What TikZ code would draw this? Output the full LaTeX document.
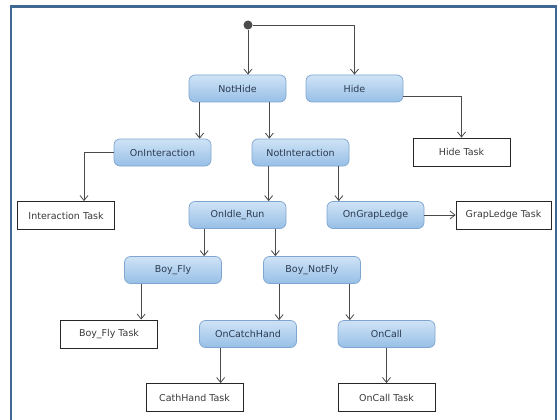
\documentclass[tikz,border=0pt]{standalone}
\usepackage{fontspec}
\setmainfont{DejaVu Sans}
\usetikzlibrary{arrows.meta}

\definecolor{frameblue}{HTML}{3F6894}
\definecolor{stateTop}{HTML}{CFE3F6}
\definecolor{stateBot}{HTML}{97BFE6}
\definecolor{stateLine}{HTML}{7FA6D0}
\definecolor{stateText}{HTML}{2C3B50}
\definecolor{taskText}{HTML}{3A3A3A}
\definecolor{flowLine}{HTML}{4A4A4A}

\tikzset{
  state/.style={rectangle, rounded corners=6pt, draw=stateLine, line width=0.7pt,
    top color=stateTop, bottom color=stateBot, text=stateText,
    minimum width=97pt, minimum height=27pt, inner sep=0pt,
    font=\fontsize{9.5}{11}\selectfont},
  task/.style={rectangle, draw=black!85, line width=0.8pt, fill=white, text=taskText,
    minimum width=97pt, minimum height=28pt, inner sep=0pt,
    font=\fontsize{9.5}{11}\selectfont},
  flow/.style={draw=flowLine, line width=0.9pt,
    -{Straight Barb[length=5pt,width=8pt,line width=0.8pt]}},
  startdot/.style={circle, fill=black!70, minimum size=9pt, inner sep=0pt}
}

\begin{document}
\begin{tikzpicture}[x=1pt, y=-1pt]
  \useasboundingbox (0,0) rectangle (560,420);
  \fill[white] (0,0) rectangle (560,420);
  % outer frame
  \draw[frameblue, line width=2.5pt] (11,6.5) rectangle (556,430);

  % start point
  \node[startdot] (start) at (248,25) {};

  % states
  \node[state] (nothide)  at (237.5,88.5) {NotHide};
  \node[state] (hide)     at (354.5,88.5) {Hide};
  \node[state] (onint)    at (162.5,152.5) {OnInteraction};
  \node[state] (notint)   at (300.5,152.5) {NotInteraction};
  \node[state] (idle)     at (237.5,215) {OnIdle\_Run};
  \node[state] (grap)     at (375.5,215) {OnGrapLedge};
  \node[state] (boyfly)   at (173,270) {Boy\_Fly};
  \node[state] (boynot)   at (312,270) {Boy\_NotFly};
  \node[state] (catch)    at (248,334) {OnCatchHand};
  \node[state] (oncall)   at (386.5,334) {OnCall};

  % tasks
  \node[task] (hidetask)  at (461.5,152) {Hide Task};
  \node[task] (inttask)   at (66,215.5) {Interaction Task};
  \node[task, minimum width=95pt] (graptask) at (503.5,215) {GrapLedge Task};
  \node[task] (flytask)   at (109,334) {Boy\_Fly Task};
  \node[task] (catchtask) at (194.5,397.5) {CathHand Task};
  \node[task] (calltask)  at (386.5,397.5) {OnCall Task};

  % transitions
  \draw[flow] (start) -- (start |- nothide.north);
  \draw[flow] (start) -| (hide.north);
  \draw[flow] ([xshift=11pt]nothide.south west) -- ([xshift=11pt]nothide.south west |- onint.north);
  \draw[flow] ([xshift=-17pt]nothide.south east) -- ([xshift=-17pt]nothide.south east |- notint.north);
  \draw[flow] ([yshift=6pt]hide.south east) -| (hidetask.north);
  \draw[flow] (onint.west) -| ([xshift=18pt]inttask.north);
  \draw[flow] ([xshift=17pt]notint.south west) -- ([xshift=17pt]notint.south west |- idle.north);
  \draw[flow] ([xshift=-10.5pt]notint.south east) -- ([xshift=-10.5pt]notint.south east |- grap.north);
  \draw[flow] (grap.east) -- (graptask.west);
  \draw[flow] ([xshift=15.5pt]idle.south west) -- ([xshift=15.5pt]idle.south west |- boyfly.north);
  \draw[flow] ([xshift=-11pt]idle.south east) -- ([xshift=-11pt]idle.south east |- boynot.north);
  \draw[flow] ([xshift=17pt]boyfly.south west) -- ([xshift=17pt]boyfly.south west |- flytask.north);
  \draw[flow] ([xshift=16pt]boynot.south west) -- ([xshift=16pt]boynot.south west |- catch.north);
  \draw[flow] ([xshift=-11pt]boynot.south east) -- ([xshift=-11pt]boynot.south east |- oncall.north);
  \draw[flow] ([xshift=21.5pt]catch.south west) -- ([xshift=21.5pt]catch.south west |- catchtask.north);
  \draw[flow] (oncall.south) -- (calltask.north);
\end{tikzpicture}
\end{document}
